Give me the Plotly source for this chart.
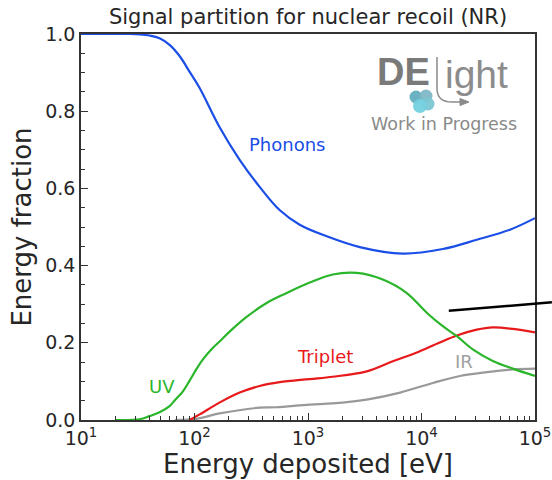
import numpy as np
import plotly.graph_objects as go

# ---- data ----
E_phonon = [10, 26.8, 32.8, 40.2, 49.2, 60.3, 73.9, 90.6, 111, 166, 250, 375, 562, 845, 1462, 2858, 6840, 15400, 30700, 60100, 100000]
f_phonon = [1.0, 1.0, 0.999, 0.996, 0.989, 0.972, 0.943, 0.902, 0.860, 0.759, 0.674, 0.604, 0.544, 0.506, 0.476, 0.448, 0.431, 0.443, 0.467, 0.493, 0.523]

E_uv = [20, 32.8, 40.2, 49.2, 60.3, 68, 78.5, 90.6, 104, 120, 144, 170, 204, 288, 432, 649, 1035, 1652, 2690, 4560, 7420, 11120, 15400, 20500, 28300, 42500, 63800, 100000]
f_uv = [0.0, 0.002, 0.010, 0.020, 0.036, 0.053, 0.073, 0.102, 0.132, 0.159, 0.186, 0.206, 0.229, 0.267, 0.303, 0.329, 0.356, 0.377, 0.381, 0.364, 0.329, 0.278, 0.243, 0.217, 0.183, 0.153, 0.133, 0.114]

E_triplet = [90.6, 111, 166, 250, 375, 562, 1035, 1652, 3290, 5590, 8980, 14300, 20500, 30700, 42500, 63800, 100000]
f_triplet = [0.0, 0.0145, 0.045, 0.071, 0.088, 0.098, 0.106, 0.112, 0.126, 0.152, 0.174, 0.200, 0.219, 0.234, 0.240, 0.236, 0.227]

E_ir = [66.8, 104, 166, 375, 522, 1035, 1652, 3290, 6490, 12600, 21800, 37700, 63800, 100000]
f_ir = [0.0, 0.003, 0.017, 0.032, 0.033, 0.040, 0.043, 0.053, 0.071, 0.096, 0.114, 0.124, 0.131, 0.133]

E_stray = [17400, 140900]
f_stray = [0.283, 0.305]

series_names = ["Phonons", "UV", "Triplet", "IR"]
label_E = [649, 51.3, 1403, 23600]
label_f = [0.715, 0.087, 0.165, 0.152]

x_tick_exponents = [1, 2, 3, 4, 5]
y_ticks = [0.0, 0.2, 0.4, 0.6, 0.8, 1.0]

X_RANGE = [1, 5]   # log10 of 10 eV .. 1e5 eV
Y_RANGE = [0, 1.0]

# ---- styling ----
colors = {"Phonons": "#1a4ee6", "UV": "#2ab52a", "Triplet": "#e8191a", "IR": "#999999"}
label_colors = {"Phonons": "#1a4ee6", "UV": "#2ab52a", "Triplet": "#e8191a", "IR": "#a0a0a0"}
FONT = "DejaVu Sans, Verdana, sans-serif"
TXT = "#262626"

W, H = 552, 480
ML, MR, MT, MB = 81, 17, 34, 60

fig = go.Figure()
data = {"Phonons": (E_phonon, f_phonon), "UV": (E_uv, f_uv),
        "Triplet": (E_triplet, f_triplet), "IR": (E_ir, f_ir)}
for name in ["IR", "Triplet", "UV", "Phonons"]:
    xs, ys = data[name]
    fig.add_trace(go.Scatter(x=xs, y=ys, mode="lines", name=name,
                             line=dict(color=colors[name], width=2.2, shape="spline",
                                       smoothing=1.0, simplify=False),
                             showlegend=False, hoverinfo="skip"))

for name, ex, fy in zip(series_names, label_E, label_f):
    fig.add_annotation(x=np.log10(ex), y=fy, xref="x", yref="y", text=name, showarrow=False,
                       font=dict(family=FONT, size=18, color=label_colors[name]))

# stray black line that extends beyond the axes (paper coords from axis scale)
def to_paper_x(e):
    return (np.log10(e) - X_RANGE[0]) / (X_RANGE[1] - X_RANGE[0])

def to_paper_y(v):
    return (v - Y_RANGE[0]) / (Y_RANGE[1] - Y_RANGE[0])

fig.add_shape(type="line", xref="paper", yref="paper",
              x0=to_paper_x(E_stray[0]), y0=to_paper_y(f_stray[0]),
              x1=to_paper_x(E_stray[1]), y1=to_paper_y(f_stray[1]),
              line=dict(color="black", width=2.5))

# ---- logo (decoration, placed in pixel space -> paper) ----
PW = W - ML - MR
PH = H - MT - MB
def px(x):
    return (x - ML) / PW
def py(y):
    return (H - MB - y) / PH

fig.add_annotation(xref="paper", yref="paper", x=px(403), y=py(72), text="<b>DE</b>",
                   showarrow=False, font=dict(family="Liberation Sans, Arial", size=38, color="#7a7a7a"),
                   xanchor="center", yanchor="middle")
fig.add_annotation(xref="paper", yref="paper", x=px(476), y=py(74), text="ight",
                   showarrow=False, font=dict(family="Liberation Sans, Arial", size=39, color="#8c8c8c"),
                   xanchor="center", yanchor="middle")
fig.add_annotation(xref="paper", yref="paper", x=px(444), y=py(124), text="Work in Progress",
                   showarrow=False, font=dict(family=FONT, size=17.5, color="#8a8a8a"),
                   xanchor="center", yanchor="middle")
# the "l" with arrow
path = "M {},{} L {},{} Q {},{} {},{} L {},{}".format(
    px(437), py(57), px(437), py(90), px(438), py(102), px(452), py(102), px(462), py(102))
fig.add_shape(type="path", xref="paper", yref="paper", path=path,
              line=dict(color="#8a8a8a", width=1.5))
arrow = "M {},{} L {},{} L {},{} Z".format(px(460), py(98.5), px(469), py(102), px(460), py(105.5))
fig.add_shape(type="path", xref="paper", yref="paper", path=arrow,
              fillcolor="#8a8a8a", line=dict(color="#8a8a8a", width=1))
# blobs
for (cx, cy, r, col) in [(416, 97, 6.5, "#62aebf"), (426, 96, 6.5, "#7fb8c6"),
                         (428, 104, 6.5, "#79c6d3"), (420, 106, 7, "#74d0de")]:
    fig.add_shape(type="circle", xref="paper", yref="paper",
                  x0=px(cx - r), x1=px(cx + r), y0=py(cy + r), y1=py(cy - r),
                  fillcolor=col, line=dict(width=0), opacity=0.95)

axis_common = dict(showline=True, linecolor="#333333", linewidth=1.5, mirror=True,
                   showgrid=False, zeroline=False, ticks="inside", ticklen=7, tickwidth=1,
                   tickcolor="#333333", tickfont=dict(family=FONT, size=19, color=TXT),
                   automargin=False)

fig.update_xaxes(type="log", range=X_RANGE,
                 tickvals=[10 ** k for k in x_tick_exponents],
                 ticktext=["10<sup>{}</sup>".format(k) for k in x_tick_exponents],
                 minor=dict(ticks="inside", ticklen=4, tickcolor="#333333", dtick="D1", showgrid=False),
                 title=dict(text="Energy deposited [eV]", font=dict(family=FONT, size=26, color=TXT), standoff=2),
                 **axis_common)
fig.update_yaxes(range=Y_RANGE, tickvals=y_ticks, tickformat=".1f",
                 minor=dict(ticks="inside", ticklen=4, tickcolor="#333333", dtick=0.05, showgrid=False),
                 title=dict(text="Energy fraction", font=dict(family=FONT, size=26, color=TXT), standoff=6),
                 **axis_common)

fig.update_layout(width=W, height=H, margin=dict(l=ML, r=MR, t=MT, b=MB, autoexpand=False),
                  paper_bgcolor="white", plot_bgcolor="white",
                  title=dict(text="Signal partition for nuclear recoil (NR)", x=0.5, xref="paper",
                             y=1 - 17 / H, yref="container", yanchor="middle", automargin=False,
                             font=dict(family=FONT, size=21, color=TXT)))

fig.write_html("out.html")
